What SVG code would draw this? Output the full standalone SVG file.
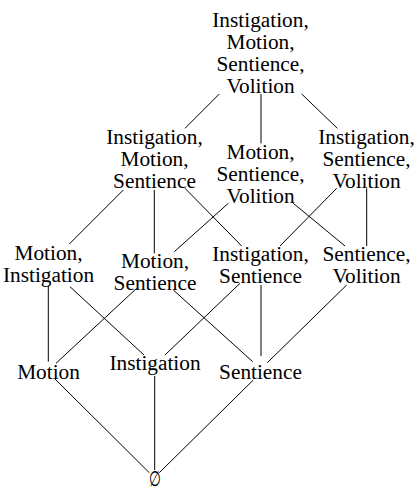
<svg xmlns="http://www.w3.org/2000/svg" width="416" height="490" viewBox="0 0 416 490">
<style>
.e line{stroke:#000;stroke-width:1;fill:none}
</style>
<rect width="416" height="490" fill="#fff"/>
<g id="edges" class="e">
<line x1="219.3" y1="94" x2="185" y2="128.3"/>
<line x1="261" y1="94" x2="261" y2="143.3"/>
<line x1="301.7" y1="94" x2="337.3" y2="128.3"/>
<line x1="123.3" y1="190" x2="69.3" y2="244"/>
<line x1="154.3" y1="190" x2="154.3" y2="253.3"/>
<line x1="185" y1="188.3" x2="241.7" y2="246"/>
<line x1="228.3" y1="203.3" x2="174.3" y2="251.7"/>
<line x1="293.3" y1="203.3" x2="345" y2="246"/>
<line x1="336.7" y1="188.3" x2="280" y2="246"/>
<line x1="366.7" y1="188.3" x2="366.7" y2="246"/>
<line x1="48.3" y1="286" x2="48.3" y2="361.7"/>
<line x1="70" y1="286.7" x2="144" y2="355"/>
<line x1="136.7" y1="288.3" x2="56" y2="363.3"/>
<line x1="173.3" y1="290" x2="252.7" y2="361.7"/>
<line x1="240" y1="283.3" x2="165" y2="355"/>
<line x1="261" y1="285" x2="261" y2="356"/>
<line x1="346.7" y1="285" x2="267.3" y2="362.7"/>
<line x1="55" y1="379" x2="149.3" y2="472.7"/>
<line x1="154.7" y1="376" x2="154.7" y2="470"/>
<line x1="253.3" y1="380" x2="159.3" y2="472.7"/>
</g>
<g font-family="'Liberation Serif', Tinos, 'Times New Roman', 'DejaVu Serif', serif" font-size="21.3" text-anchor="middle" fill="#000">
<g id="n-imsv"><text x="260.5" y="27">Instigation,</text><text x="260.5" y="49">Motion,</text><text x="260.5" y="71">Sentience,</text><text x="260.5" y="93">Volition</text></g>
<g id="n-ims"><text x="154.5" y="144">Instigation,</text><text x="154.5" y="166">Motion,</text><text x="154.5" y="188">Sentience</text></g>
<g id="n-msv"><text x="260.5" y="159">Motion,</text><text x="260.5" y="181">Sentience,</text><text x="260.5" y="203">Volition</text></g>
<g id="n-isv"><text x="366.5" y="144">Instigation,</text><text x="366.5" y="166">Sentience,</text><text x="366.5" y="188">Volition</text></g>
<g id="n-mi"><text x="48.5" y="260">Motion,</text><text x="48.5" y="282">Instigation</text></g>
<g id="n-ms"><text x="155" y="267.5">Motion,</text><text x="155" y="289.5">Sentience</text></g>
<g id="n-is"><text x="260.5" y="261">Instigation,</text><text x="260.5" y="283">Sentience</text></g>
<g id="n-sv"><text x="366.5" y="261">Sentience,</text><text x="366.5" y="283">Volition</text></g>
<g id="n-m"><text x="48.5" y="379">Motion</text></g>
<g id="n-i"><text x="155" y="369.5">Instigation</text></g>
<g id="n-s"><text x="260.5" y="378.5">Sentience</text></g>
<g id="n-empty"><text x="155" y="486" transform="translate(155 0) scale(0.65 1) translate(-155 0)">∅</text></g>
</g>
</svg>
